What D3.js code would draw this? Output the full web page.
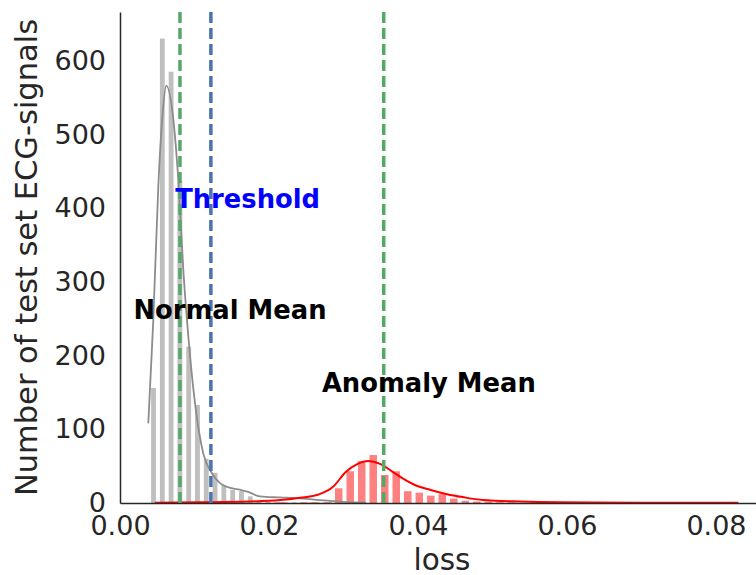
<!DOCTYPE html>
<html>
<head>
<meta charset="utf-8">
<script src="https://cdn.jsdelivr.net/npm/d3@7"></script>
<style>
  body { margin: 0; background: #fff; }
  text { font-family: "DejaVu Sans", sans-serif; }
</style>
</head>
<body>
<div id="chart"></div>
<script>
// normal test signals: histogram bins (loss) and counts
const normalBinStart = 0.00391;
const normalBinWidth = 0.00118;
const normalCounts = [156, 630, 585, 437, 212, 133, 60, 41, 24, 18, 16, 9, 3, 2, 1, 1, 1, 0, 1, 0, 1, 0];

// anomalous test signals: histogram bins (loss) and counts
const anomalyBinStart = 0.00541;
const anomalyBinWidth = 0.001545;
const anomalyCounts = [0, 0, 0, 0, 0, 0, 0, 0, 0, 0, 1, 0, 1, 1, 1, 20, 43, 57, 65, 38, 43, 16, 14, 10, 12, 6, 3, 2, 2, 1, 1, 0, 1, 0, 1, 0, 0, 1, 0, 0, 0, 1, 0, 0, 0, 0, 0, 0, 0, 1];

// kde curves: [loss, count]
const normalKde = [
    [0.00380, 108], [0.00447, 248], [0.00514, 429], [0.00573, 529], [0.00620, 566],
    [0.00716, 520], [0.00783, 438], [0.00850, 316], [0.00917, 226], [0.01007, 135],
    [0.01118, 67], [0.01230, 41], [0.01342, 27], [0.01432, 22], [0.01611, 18],
    [0.01720, 15], [0.01879, 9], [0.02148, 7.5], [0.02372, 6.5], [0.02685, 4],
    [0.0300, 1.5], [0.0330, 0.5]
];
const anomalyKde = [
    [0.0047, 0.5], [0.0107, 1], [0.0174, 2], [0.0215, 4], [0.0242, 7], [0.0268, 12],
    [0.0286, 22], [0.0303, 42], [0.0319, 53], [0.0333, 57], [0.0349, 53], [0.0365, 43],
    [0.0380, 33], [0.0399, 23], [0.0416, 18], [0.0439, 12], [0.0460, 8], [0.0487, 4],
    [0.0537, 2], [0.0591, 1], [0.0698, 0.5], [0.0830, 0.3]
];

// reference lines
const normalMean = 0.00805;
const threshold = 0.0122;
const anomalyMean = 0.0354;

const xTicks = [0, 0.02, 0.04, 0.06, 0.08];
const yTicks = [0, 100, 200, 300, 400, 500, 600];

const width = 756, height = 575;
const margin = { top: 12, right: 0, bottom: 72, left: 120 };

const svg = d3.select('#chart').append('svg')
    .attr('width', width)
    .attr('height', height);

const x = d3.scaleLinear().domain([0, 0.08537]).range([margin.left, width - margin.right]);
const y = d3.scaleLinear().domain([0, 666]).range([height - margin.bottom, margin.top]);

function drawHist(counts, start, binW, shrink, color) {
    svg.append('g').selectAll('rect')
        .data(counts)
        .enter().append('rect')
        .attr('x', (d, i) => x(start + (i + 0.5 - shrink / 2) * binW))
        .attr('width', x(binW * shrink) - x(0))
        .attr('y', d => y(d))
        .attr('height', d => y(0) - y(d))
        .attr('fill', color);
}

drawHist(normalCounts, normalBinStart, normalBinWidth, 0.55, '#bfbfbf');
drawHist(anomalyCounts, anomalyBinStart, anomalyBinWidth, 0.65, '#ff8080');

const line = d3.line()
    .x(d => x(d[0]))
    .y(d => y(d[1]))
    .curve(d3.curveMonotoneX);

svg.append('path')
    .datum(normalKde)
    .attr('d', line)
    .attr('fill', 'none')
    .attr('stroke', '#8c8c8c')
    .attr('stroke-width', 1.8);

svg.append('path')
    .datum(anomalyKde)
    .attr('d', line)
    .attr('fill', 'none')
    .attr('stroke', '#ff0000')
    .attr('stroke-width', 2);

// axes (seaborn white style: no ticks, only spines)
const xAxis = svg.append('g')
    .attr('transform', `translate(0,${y(0)})`)
    .call(d3.axisBottom(x).tickValues(xTicks).tickSize(0).tickPadding(13).tickFormat(d3.format('.2f')));
const yAxis = svg.append('g')
    .attr('transform', `translate(${margin.left},0)`)
    .call(d3.axisLeft(y).tickValues(yTicks).tickSize(0).tickPadding(14));

[xAxis, yAxis].forEach(g => {
    g.select('.domain').attr('stroke', '#262626').attr('stroke-width', 1.5);
    g.selectAll('text')
        .attr('fill', '#262626')
        .style('font-size', '27px')
        .style('font-family', '"DejaVu Sans", sans-serif');
});

// vertical reference lines
const vlines = [
    { v: normalMean, color: '#55a868' },
    { v: threshold, color: '#4c72b0' },
    { v: anomalyMean, color: '#55a868' }
];
svg.append('g').selectAll('line')
    .data(vlines)
    .enter().append('line')
    .attr('x1', d => x(d.v))
    .attr('x2', d => x(d.v))
    .attr('y1', y(0))
    .attr('y2', margin.top)
    .attr('stroke', d => d.color)
    .attr('stroke-width', 3.5)
    .attr('stroke-dasharray', '11,5');

// annotations
const notes = [
    { text: 'Threshold', v: 0.0074, c: 400, color: '#0000ff' },
    { text: 'Normal Mean', v: 0.0018, c: 249.5, color: '#000000' },
    { text: 'Anomaly Mean', v: 0.0271, c: 151, color: '#000000' }
];
svg.append('g').selectAll('text')
    .data(notes)
    .enter().append('text')
    .attr('x', d => x(d.v))
    .attr('y', d => y(d.c))
    .attr('fill', d => d.color)
    .style('font-size', '25.8px')
    .style('font-weight', 'bold')
    .text(d => d.text);

// axis labels
svg.append('text')
    .attr('x', 442)
    .attr('y', 570)
    .attr('text-anchor', 'middle')
    .attr('fill', '#262626')
    .style('font-size', '29.5px')
    .text('loss');

svg.append('text')
    .attr('transform', `translate(37,${(y(0) + margin.top) / 2}) rotate(-90)`)
    .attr('text-anchor', 'middle')
    .attr('fill', '#262626')
    .style('font-size', '30.5px')
    .text('Number of test set ECG-signals');
</script>
</body>
</html>
